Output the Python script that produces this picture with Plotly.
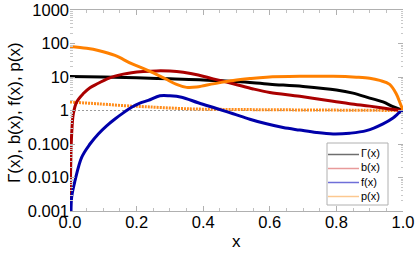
import plotly.graph_objects as go

# ---------------- data ----------------
gamma_x = [0.0, 0.1, 0.2, 0.3, 0.4, 0.5, 0.6, 0.7, 0.8, 0.85, 0.9, 0.94, 0.97, 1.0]
gamma_y = [10.4, 10.0, 9.5, 8.8, 8.2, 7.3, 6.1, 5.2, 4.1, 3.3, 2.35, 1.8, 1.3, 1.0]

b_x = [0.0005, 0.002, 0.005, 0.01, 0.02, 0.04, 0.06, 0.085, 0.11, 0.135, 0.16, 0.185,
       0.22, 0.26, 0.3, 0.34, 0.385, 0.43, 0.49, 0.55, 0.6, 0.69, 0.79, 0.84, 0.9, 0.95, 1.0]
b_y = [0.0008, 0.02, 0.2, 0.8, 1.8, 3.2, 4.8, 6.5, 8.7, 10.6, 12.2, 13.4,
       14.5, 15.2, 15.0, 13.8, 11.5, 8.8, 6.3, 4.4, 3.45, 2.65, 1.9, 1.6, 1.35, 1.15, 1.0]

f_x = [0.003, 0.005, 0.015, 0.035, 0.06, 0.085, 0.11, 0.135, 0.16, 0.185, 0.21, 0.235,
       0.27, 0.3, 0.335, 0.385, 0.44, 0.49, 0.54, 0.59, 0.64, 0.69, 0.74, 0.79, 0.84,
       0.89, 0.94, 0.97, 0.99, 1.0]
f_y = [0.0007, 0.0026, 0.008, 0.04, 0.1, 0.2, 0.35, 0.56, 0.85, 1.25, 1.65, 2.0,
       2.75, 2.75, 2.5, 1.7, 1.15, 0.8, 0.55, 0.4, 0.31, 0.26, 0.22, 0.2, 0.21,
       0.25, 0.4, 0.6, 0.88, 1.0]

p_x = [0.0, 0.05, 0.085, 0.135, 0.185, 0.235, 0.285, 0.32, 0.35, 0.38, 0.405, 0.45,
       0.49, 0.54, 0.59, 0.69, 0.79, 0.86, 0.9, 0.93, 0.96, 0.98, 0.99, 1.0]
p_y = [82, 72, 62, 44, 25, 15.6, 9.0, 6.0, 4.9, 5.0, 5.6, 6.8,
       7.9, 9.0, 9.9, 10.5, 10.5, 9.9, 9.2, 7.9, 6.0, 3.1, 1.8, 1.0]

pdot_x = [0.0, 0.085, 0.185, 0.21, 0.36, 0.51, 0.7, 0.85, 1.0]
pdot_y = [1.8, 1.58, 1.35, 1.32, 1.12, 1.07, 1.04, 1.02, 1.0]

ref_x = [0.0, 1.0]
ref_y = [1.0, 1.0]

x_tickvals = [0.0, 0.2, 0.4, 0.6, 0.8, 1.0]
x_ticktext = ["0.0", "0.2", "0.4", "0.6", "0.8", "1.0"]
y_tickvals = [0.001, 0.01, 0.1, 1, 10, 100, 1000]
y_ticktext = ["0.001", "0.010", "0.100", "1", "10", "100", "1000"]
y_minorvals = [m * 10.0 ** e for e in range(-3, 3) for m in range(2, 10)]
x_minorvals = [i * 0.05 for i in range(21)]

legend_labels = ["Γ(x)", "b(x)", "f(x)", "p(x)"]
legend_colors = ["#6e6e6e", "#e89a9a", "#6f6fd8", "#fcc890"]
x_title = "x"
y_title = "Γ(x), b(x), f(x), p(x)"

FONT = "Liberation Sans, Arial, sans-serif"

fig = go.Figure()

fig.add_trace(go.Scatter(x=ref_x, y=ref_y, mode="lines", showlegend=False,
                         line=dict(color="#9a9a9a", width=1, dash="2px,2px"), hoverinfo="skip"))
fig.add_trace(go.Scatter(x=pdot_x, y=pdot_y, mode="lines", name="p_dot", showlegend=False,
                         line=dict(color="#ff8c1a", width=3, dash="2px,1px", shape="spline")))
fig.add_trace(go.Scatter(x=gamma_x, y=gamma_y, mode="lines", name=legend_labels[0],
                         line=dict(color="#000000", width=3, shape="spline")))
fig.add_trace(go.Scatter(x=b_x, y=b_y, mode="lines", name=legend_labels[1],
                         line=dict(color="#aa0000", width=3, shape="spline")))
fig.add_trace(go.Scatter(x=f_x, y=f_y, mode="lines", name=legend_labels[2],
                         line=dict(color="#0000aa", width=3, shape="spline")))
fig.add_trace(go.Scatter(x=p_x, y=p_y, mode="lines", name=legend_labels[3],
                         line=dict(color="#ff8000", width=3, shape="spline")))

# ---- pixel helpers for the plot area ----
L, R, T, B = 70, 403, 10, 211
W, H = R - L, B - T
def px(xp):
    return (xp - L) / W
def py(yp):
    return (B - yp) / H

shapes = [dict(type="rect", xref="paper", yref="paper",
               x0=px(327), x1=px(388), y0=py(205), y1=py(143),
               line=dict(color="#b0b0b0", width=1), fillcolor="white", layer="above")]
line_y = [154.5, 168.5, 182.5, 196.5]
for col, ly in zip(legend_colors, line_y):
    shapes.append(dict(type="line", xref="paper", yref="paper",
                       x0=px(328), x1=px(359), y0=py(ly), y1=py(ly),
                       line=dict(color=col, width=1.5), layer="above"))
annotations = [
    dict(xref="paper", yref="paper", x=px(359), y=py(174.5),
         text="<br>".join(legend_labels), showarrow=False,
         xanchor="left", yanchor="middle", align="left",
         font=dict(family=FONT, size=11, color="#000")),
    dict(xref="paper", yref="paper", x=0.5, y=py(241),
         text=x_title, showarrow=False, xanchor="center", yanchor="middle",
         font=dict(family=FONT, size=17, color="#000")),
    dict(xref="paper", yref="paper", x=px(14), y=py(112),
         text=y_title, showarrow=False, xanchor="center", yanchor="middle",
         textangle=-90, font=dict(family=FONT, size=17, color="#000")),
]

fig.update_layout(
    width=415, height=253,
    margin=dict(l=L, r=415 - R, t=T, b=253 - B),
    paper_bgcolor="white", plot_bgcolor="white",
    showlegend=False,
    font=dict(family=FONT, color="#000"),
    shapes=shapes, annotations=annotations,
)

fig.update_xaxes(
    automargin=False,
    range=[0, 1], tickvals=x_tickvals, ticktext=x_ticktext,
    tickfont=dict(size=16.5), showgrid=False, zeroline=False,
    showline=True, linecolor="#b0b0b0", linewidth=1, mirror="ticks",
    ticks="inside", ticklen=5, tickcolor="#b0b0b0", ticklabelstandoff=-4,
    minor=dict(tickvals=x_minorvals, ticks="inside", ticklen=3, tickcolor="#c0c0c0", showgrid=False),
)
fig.update_yaxes(
    automargin=False,
    type="log", range=[-3, 3], tickvals=y_tickvals, ticktext=y_ticktext,
    tickfont=dict(size=16.5), showgrid=False, zeroline=False,
    showline=False, mirror="ticks",
    ticks="inside", ticklen=5, tickcolor="#b0b0b0",
    minor=dict(tickvals=y_minorvals, ticks="inside", ticklen=2.5, tickcolor="#c8c8c8", showgrid=False),
)

fig.write_html("out.html",
               config={"displayModeBar": False},
               post_script="document.body.style.margin='0px';document.body.style.overflow='hidden';")
